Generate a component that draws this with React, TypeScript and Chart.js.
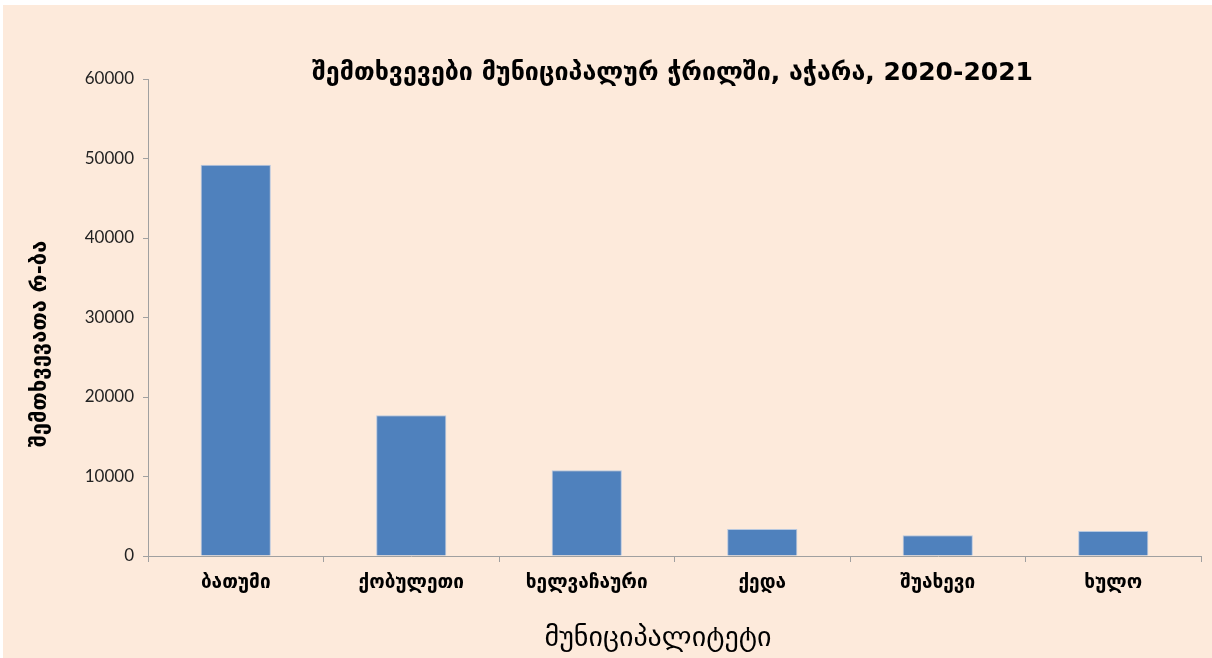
import { useEffect, useRef } from 'react';
import { Chart, registerables } from 'chart.js';

Chart.register(...registerables);

const chartTitle = 'შემთხვევები მუნიციპალურ ჭრილში, აჭარა, 2020-2021';
const xTitle = 'მუნიციპალიტეტი';
const yTitle = 'შემთხვევათა რ-ბა';
const municipalities = ['ბათუმი', 'ქობულეთი', 'ხელვაჩაური', 'ქედა', 'შუახევი', 'ხულო'];
const cases = [49200, 17700, 10800, 3400, 2600, 3150];

const GEO = '"DejaVu Sans", sans-serif';

// chart & axis titles placed the way the spreadsheet original has them
const titlePlugin = {
  id: 'plotTitles',
  afterDraw(chart: Chart) {
    const { ctx, chartArea } = chart;
    ctx.save();
    ctx.fillStyle = '#000';
    ctx.textAlign = 'center';
    ctx.textBaseline = 'middle';
    ctx.font = `bold 25px ${GEO}`;
    ctx.fillText(chartTitle, (chartArea.left + chartArea.right) / 2 - 2, 68);
    ctx.font = `28px ${GEO}`;
    ctx.fillText(xTitle, 655, 634);
    ctx.translate(37, 339);
    ctx.rotate(-Math.PI / 2);
    ctx.font = `bold 22px ${GEO}`;
    ctx.fillText(yTitle, 0, 0);
    ctx.restore();
  },
};

export default function App() {
  const canvasRef = useRef<HTMLCanvasElement>(null);

  useEffect(() => {
    document.body.style.margin = '0';
    if (!canvasRef.current) return;
    const chart = new Chart(canvasRef.current, {
      type: 'bar',
      data: {
        labels: municipalities,
        datasets: [{
          data: cases,
          backgroundColor: '#4f81bd',
          borderColor: '#b7c8df',
          borderWidth: 1,
          categoryPercentage: 1,
          barPercentage: 0.4,
        }],
      },
      options: {
        responsive: true,
        maintainAspectRatio: false,
        animation: false,
        layout: { padding: { top: 74, right: 11, left: 26, bottom: 2 } },
        plugins: {
          legend: { display: false },
          tooltip: { enabled: false },
        },
        scales: {
          x: {
            grid: { drawOnChartArea: false, drawTicks: true, tickLength: 6, color: '#a0a0a0' },
            border: { color: '#a0a0a0' },
            ticks: { color: '#000', padding: 10, font: { family: GEO, size: 19, weight: 'bold' } },
            afterFit: (s: any) => { s.height = 100; },
          },
          y: {
            min: 0,
            max: 60000,
            ticks: {
              stepSize: 10000,
              color: '#222',
              padding: 9,
              font: { family: 'Lato, sans-serif', size: 17 },
              callback: (v: any) => String(v),
            },
            grid: { drawOnChartArea: false, drawTicks: true, tickLength: 5, color: '#a0a0a0' },
            border: { color: '#a0a0a0' },
            afterFit: (s: any) => { s.width = 119; },
          },
        },
      },
      plugins: [titlePlugin],
    });
    return () => { chart.destroy(); };
  }, []);

  return (
    <div style={{ position: 'fixed', left: 3, top: 5, right: 0, bottom: 0, background: '#fdeadb' }}>
      <canvas ref={canvasRef} />
    </div>
  );
}
